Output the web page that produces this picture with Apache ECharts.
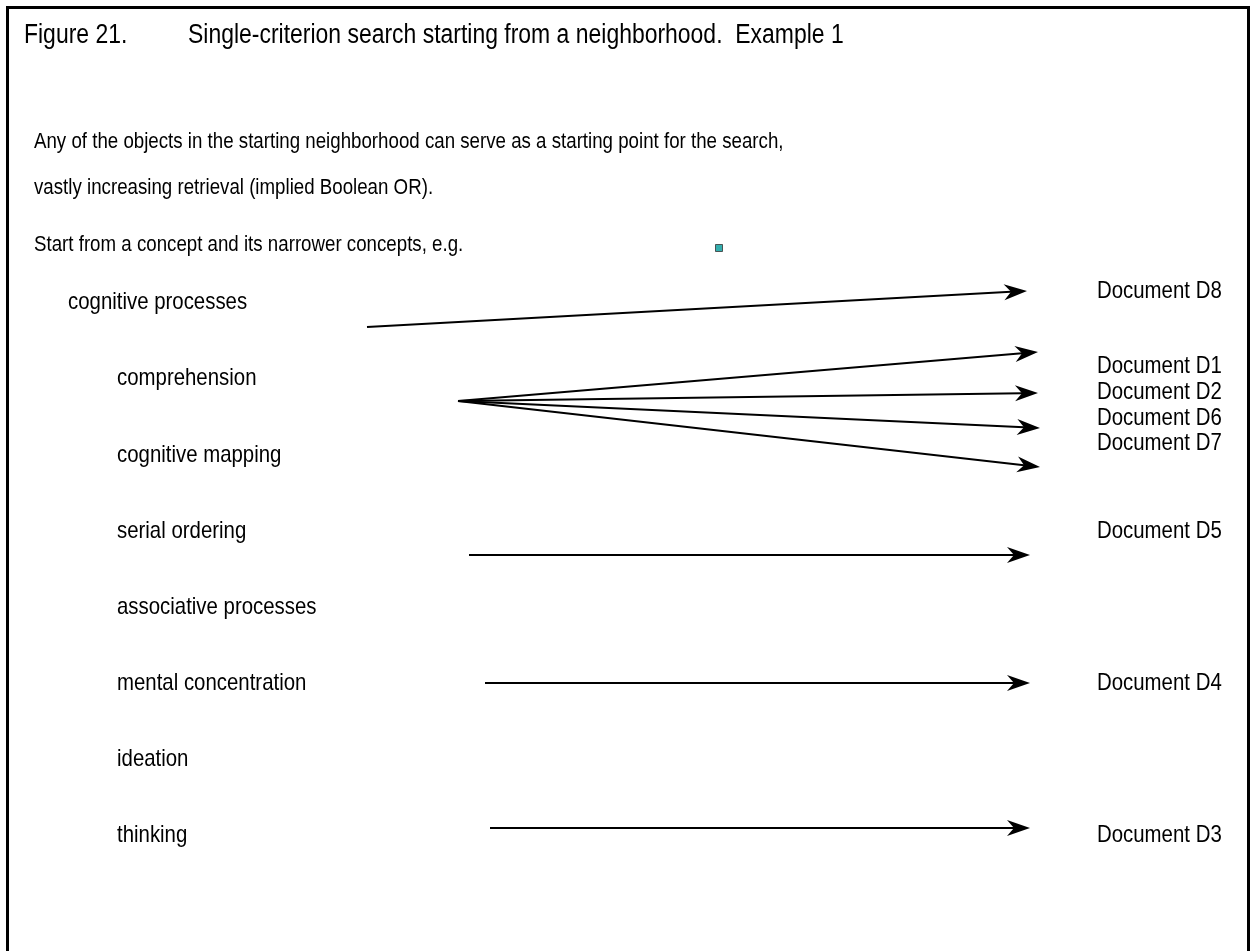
<!DOCTYPE html>
<html>
<head>
<meta charset="utf-8">
<script src="https://cdn.jsdelivr.net/npm/echarts@6/dist/echarts.min.js"></script>
<style>
html, body { margin: 0; padding: 0; background: #fff; }
#main { width: 1250px; height: 951px; }
</style>
</head>
<body>
<div id="main"></div>
<script>
// --- content ---
var figureNo = 'Figure 21.';
var figureTitle = 'Single-criterion search starting from a neighborhood.  Example 1';
var introLines = [
    'Any of the objects in the starting neighborhood can serve as a starting point for the search,',
    'vastly increasing retrieval (implied Boolean OR).',
    'Start from a concept and its narrower concepts, e.g.'
];
var concepts = ['cognitive processes', 'comprehension', 'cognitive mapping', 'serial ordering',
    'associative processes', 'mental concentration', 'ideation', 'thinking'];
var conceptLevel = [0, 1, 1, 1, 1, 1, 1, 1];
var documents = ['Document D8', 'Document D1', 'Document D2', 'Document D6',
    'Document D7', 'Document D5', 'Document D4', 'Document D3'];
var links = [
    ['cognitive processes', 'Document D8'],
    ['comprehension', 'Document D1'],
    ['comprehension', 'Document D2'],
    ['comprehension', 'Document D6'],
    ['comprehension', 'Document D7'],
    ['serial ordering', 'Document D5'],
    ['mental concentration', 'Document D4'],
    ['thinking', 'Document D3']
];

// --- layout (diagram units on the axes) ---
var titleY = 36, titleX = [24, 188];
var introX = 34, introY = [142, 188, 245];
var levelX = [68, 117];
var conceptY = [302, 378, 455, 531, 607, 683, 759, 835];
var docX = 1097;
var docY = [291, 366, 392, 418, 443, 531, 683, 835];
var arrowFrom = [[367, 327], [458, 401], [458, 401], [458, 401], [458, 401], [469, 555], [485, 683], [490, 828]];
var arrowTo = [[1027, 291], [1038, 352], [1038, 393], [1040, 428], [1040, 467], [1030, 555], [1030, 683], [1030, 828]];
var marker = [719, 248];

// narrow face: Liberation Sans squeezed horizontally
var fontName = '"Liberation Sans", Arial, sans-serif';
var squeeze = 0.85;
var sizeTitle = 27, sizeIntro = 22, sizeConcept = 24, sizeDoc = 24;

var app = echarts.init(document.getElementById('main'));

var texts = [];
function addText(text, x, y, size) {
    texts.push({ text: text, x: x, y: y, size: size });
}
addText(figureNo, titleX[0], titleY, sizeTitle);
addText(figureTitle, titleX[1], titleY, sizeTitle);
introLines.forEach(function (t, i) {
    addText(t, introX, introY[i], sizeIntro);
});
concepts.forEach(function (c, i) {
    addText(c, levelX[conceptLevel[i]], conceptY[i], sizeConcept);
});
documents.forEach(function (d, i) {
    addText(d, docX, docY[i], sizeDoc);
});

var arrowData = links.map(function (l, i) {
    return { name: l[0] + ' > ' + l[1], value: [arrowFrom[i][0], arrowFrom[i][1], arrowTo[i][0], arrowTo[i][1]] };
});

function renderArrow(params, api) {
    var a = api.coord([api.value(0), api.value(1)]);
    var b = api.coord([api.value(2), api.value(3)]);
    var dx = b[0] - a[0], dy = b[1] - a[1];
    var len = Math.sqrt(dx * dx + dy * dy);
    var ux = dx / len, uy = dy / len, px = -uy, py = ux;
    var L = 23, W = 8, N = 16;
    var notch = [b[0] - ux * N, b[1] - uy * N];
    return {
        type: 'group',
        children: [{
            type: 'line',
            shape: { x1: a[0], y1: a[1], x2: notch[0], y2: notch[1] },
            style: { stroke: '#000', lineWidth: 2 }
        }, {
            type: 'polygon',
            shape: { points: [
                b,
                [b[0] - ux * L + px * W, b[1] - uy * L + py * W],
                notch,
                [b[0] - ux * L - px * W, b[1] - uy * L - py * W]
            ] },
            style: { fill: '#000' }
        }]
    };
}

function renderText(params, api) {
    var t = texts[params.dataIndex];
    var p = api.coord([api.value(0), api.value(1)]);
    return {
        type: 'text',
        x: p[0],
        y: p[1],
        scaleX: squeeze,
        style: {
            text: t.text,
            x: 0,
            y: 0,
            fill: '#000',
            font: t.size + 'px ' + fontName,
            align: 'left',
            verticalAlign: 'middle'
        }
    };
}

option = {
    backgroundColor: '#fff',
    animation: false,
    grid: { left: 0, right: 0, top: 0, bottom: 0 },
    xAxis: { type: 'value', min: 0, max: 1250, show: false },
    yAxis: { type: 'value', min: 0, max: 951, inverse: true, show: false },
    graphic: [{
        type: 'rect',
        shape: { x: 7.5, y: 7.5, width: 1241, height: 1000 },
        style: { fill: 'none', stroke: '#000', lineWidth: 3 },
        silent: true
    }],
    series: [
        {
            type: 'custom',
            renderItem: renderArrow,
            data: arrowData,
            silent: true,
            z: 2
        },
        {
            type: 'custom',
            renderItem: renderText,
            data: texts.map(function (t) { return [t.x, t.y]; }),
            silent: true,
            z: 3
        },
        {
            type: 'scatter',
            symbol: 'rect',
            symbolSize: 7,
            itemStyle: { color: '#009a9a', borderColor: '#333', borderWidth: 1 },
            data: [marker],
            silent: true,
            z: 4
        }
    ]
};

app.setOption(option);
</script>
</body>
</html>
